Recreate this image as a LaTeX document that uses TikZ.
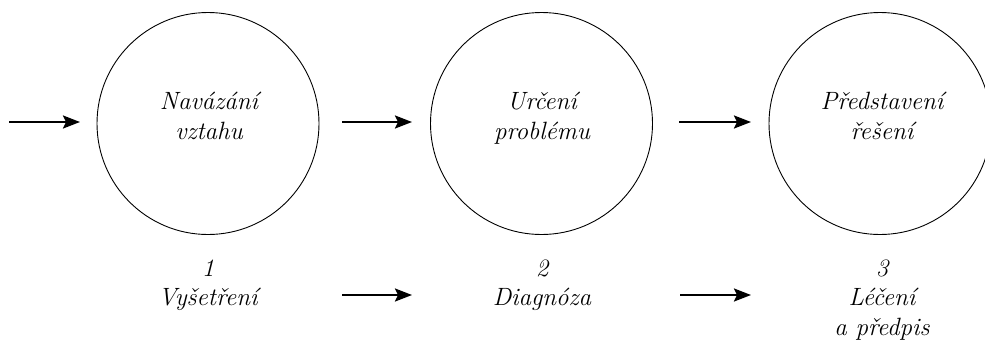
\documentclass[tikz,border=0pt]{standalone}
\usepackage{fontspec}
\usetikzlibrary{arrows.meta}
\tikzset{
  stage/.style={draw=black, line width=0.9pt, circle, minimum size=222pt, inner sep=0pt},
  lbl/.style={font=\fontsize{25}{30}\selectfont\itshape, anchor=base, inner sep=0pt},
  flow/.style={line width=2.2pt, -{Stealth[length=17pt,width=13pt,inset=3pt]}}
}
\begin{document}
\begin{tikzpicture}[x=1pt,y=-1pt]
\useasboundingbox (0,0) rectangle (985,343);
% circles
\node[stage] (c1) at (208,123.5) {};
\node[stage] (c2) at (541.5,123.5) {};
\node[stage] (c3) at (880,123.5) {};
% circle texts
\node[lbl] (t1a) at (209,109) {Navázání};
\node[lbl] (t1b) at (209,139) {vztahu};
\node[lbl] (t2a) at (542,109) {Určení};
\node[lbl] (t2b) at (542,139) {problému};
\node[lbl] (t3a) at (882,109) {Představení};
\node[lbl] (t3b) at (882,139) {řešení};
% bottom labels
\node[lbl] (b1a) at (208,276) {1};
\node[lbl] (b1b) at (208,305) {Vyšetření};
\node[lbl] (b2a) at (542,276) {2};
\node[lbl] (b2b) at (542,305) {Diagnóza};
\node[lbl] (b3a) at (882,276) {3};
\node[lbl] (b3b) at (882,305) {Léčení};
\node[lbl] (b3c) at (882,335) {a předpis};
% arrow coordinates
\coordinate (a0s) at (9,122);   \coordinate (a0e) at (80,122);
\coordinate (a1s) at (342,122); \coordinate (a1e) at (412,122);
\coordinate (a2s) at (679,122); \coordinate (a2e) at (751,122);
\coordinate (b1s) at (342,295); \coordinate (b1e) at (412,295);
\coordinate (b2s) at (680,295); \coordinate (b2e) at (751,295);
\draw[flow] (a0s) -- (a0e);
\draw[flow] (a1s) -- (a1e);
\draw[flow] (a2s) -- (a2e);
\draw[flow] (b1s) -- (b1e);
\draw[flow] (b2s) -- (b2e);
\end{tikzpicture}
\end{document}
